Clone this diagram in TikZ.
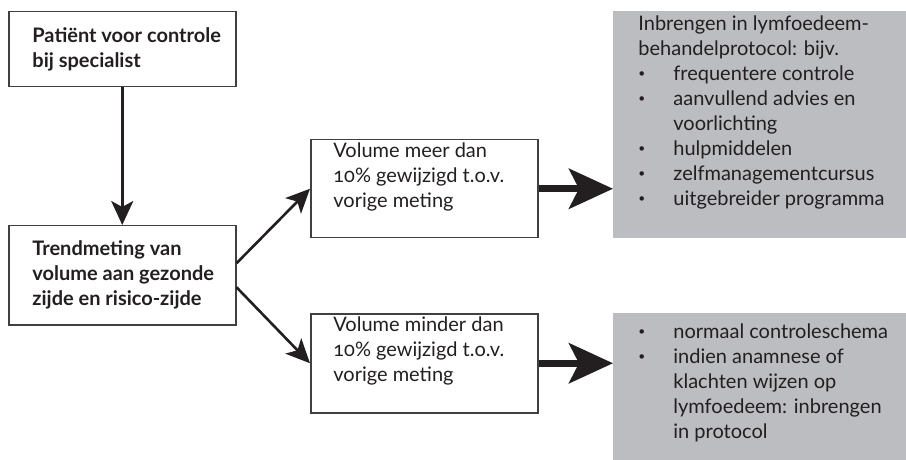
\documentclass[tikz,border=0pt]{standalone}
\usepackage{fontspec}
\setmainfont[Numbers=OldStyle]{Lato}
\usepackage{tikz}
\usetikzlibrary{arrows.meta,positioning}

\definecolor{boxgrey}{RGB}{188,189,192}
\definecolor{inkblack}{RGB}{35,31,32}

\newcommand{\smallbullet}{\raisebox{0.25ex}{\scalebox{0.6}{\textbullet}}}
\newcommand{\itemline}{\makebox[17.5pt][l]{\smallbullet}}
\newcommand{\itemcont}{\hspace*{17.5pt}}

\tikzset{
  plainbox/.style={draw=black!75, line width=0.75pt, anchor=north west, inner sep=0pt},
  greybox/.style={fill=boxgrey, anchor=north west, inner sep=0pt},
  boxtext/.style={inner sep=0pt, align=left, text=inkblack, font=\fontsize{10}{12.5}\selectfont},
  boldtext/.style={boxtext, font=\fontsize{10}{12.5}\selectfont\bfseries},
  flow/.style={-{Stealth[length=12pt,width=11pt,inset=3pt]}, line width=1.3pt, draw=inkblack},
  bigflow/.style={-{Stealth[length=22pt,width=20pt,inset=5pt]}, line width=3.5pt, draw=inkblack},
}

\begin{document}
\begin{tikzpicture}[x=0.5pt,y=-0.5pt]
\useasboundingbox (0,0) rectangle (906,460);

% boxes
\node[plainbox, minimum width=113.5pt, minimum height=37.5pt] (patient) at (8,11) {};
\node[plainbox, minimum width=113.5pt, minimum height=49.5pt] (trend) at (8,225) {};
\node[plainbox, minimum width=113.5pt, minimum height=49pt] (meer) at (310,139) {};
\node[plainbox, minimum width=113.5pt, minimum height=49.5pt] (minder) at (310,313) {};
\node[greybox, minimum width=146.5pt, minimum height=113.5pt] (protocol) at (613,11) {};
\node[greybox, minimum width=146.5pt, minimum height=73.5pt] (normaal) at (613,313) {};

% texts
\node[boldtext, right=12pt of patient.west] (patienttext) {Patiënt voor controle\\bij specialist};
\node[boldtext, right=12pt of trend.west] (trendtext) {Trendmeting van\\volume aan gezonde\\zijde en risico-zijde};
\node[boxtext, below right=1.5pt and 11.5pt of meer.north west] (meertext)
  {Volume meer dan\\10\% gewijzigd t.o.v.\\vorige meting};
\node[boxtext, below right=1.5pt and 11.5pt of minder.north west] (mindertext)
  {Volume minder dan\\10\% gewijzigd t.o.v.\\vorige meting};
\node[boxtext, below right=2pt and 12.5pt of protocol.north west] (protocoltext)
  {Inbrengen in lymfoedeem-\\behandelprotocol: bijv.\\
   \itemline frequentere controle\\
   \itemline aanvullend advies en\\
   \itemcont voorlichting\\
   \itemline hulpmiddelen\\
   \itemline zelfmanagementcursus\\
   \itemline uitgebreider programma};
\node[boxtext, below right=5pt and 12.5pt of normaal.north west] (normaaltext)
  {\itemline normaal controleschema\\
   \itemline indien anamnese of\\
   \itemcont klachten wijzen op\\
   \itemcont lymfoedeem: inbrengen\\
   \itemcont in protocol};

% arrows
\draw[flow] (patient) -- (trend);
\draw[flow] ([yshift=6pt]trend.east) -- (meer.west);
\draw[flow] ([yshift=-6pt]trend.east) -- (minder.west);
\draw[bigflow] (meer.east) -- (meer.east -| protocol.west);
\draw[bigflow] (minder.east) -- (minder.east -| normaal.west);
\end{tikzpicture}
\end{document}
